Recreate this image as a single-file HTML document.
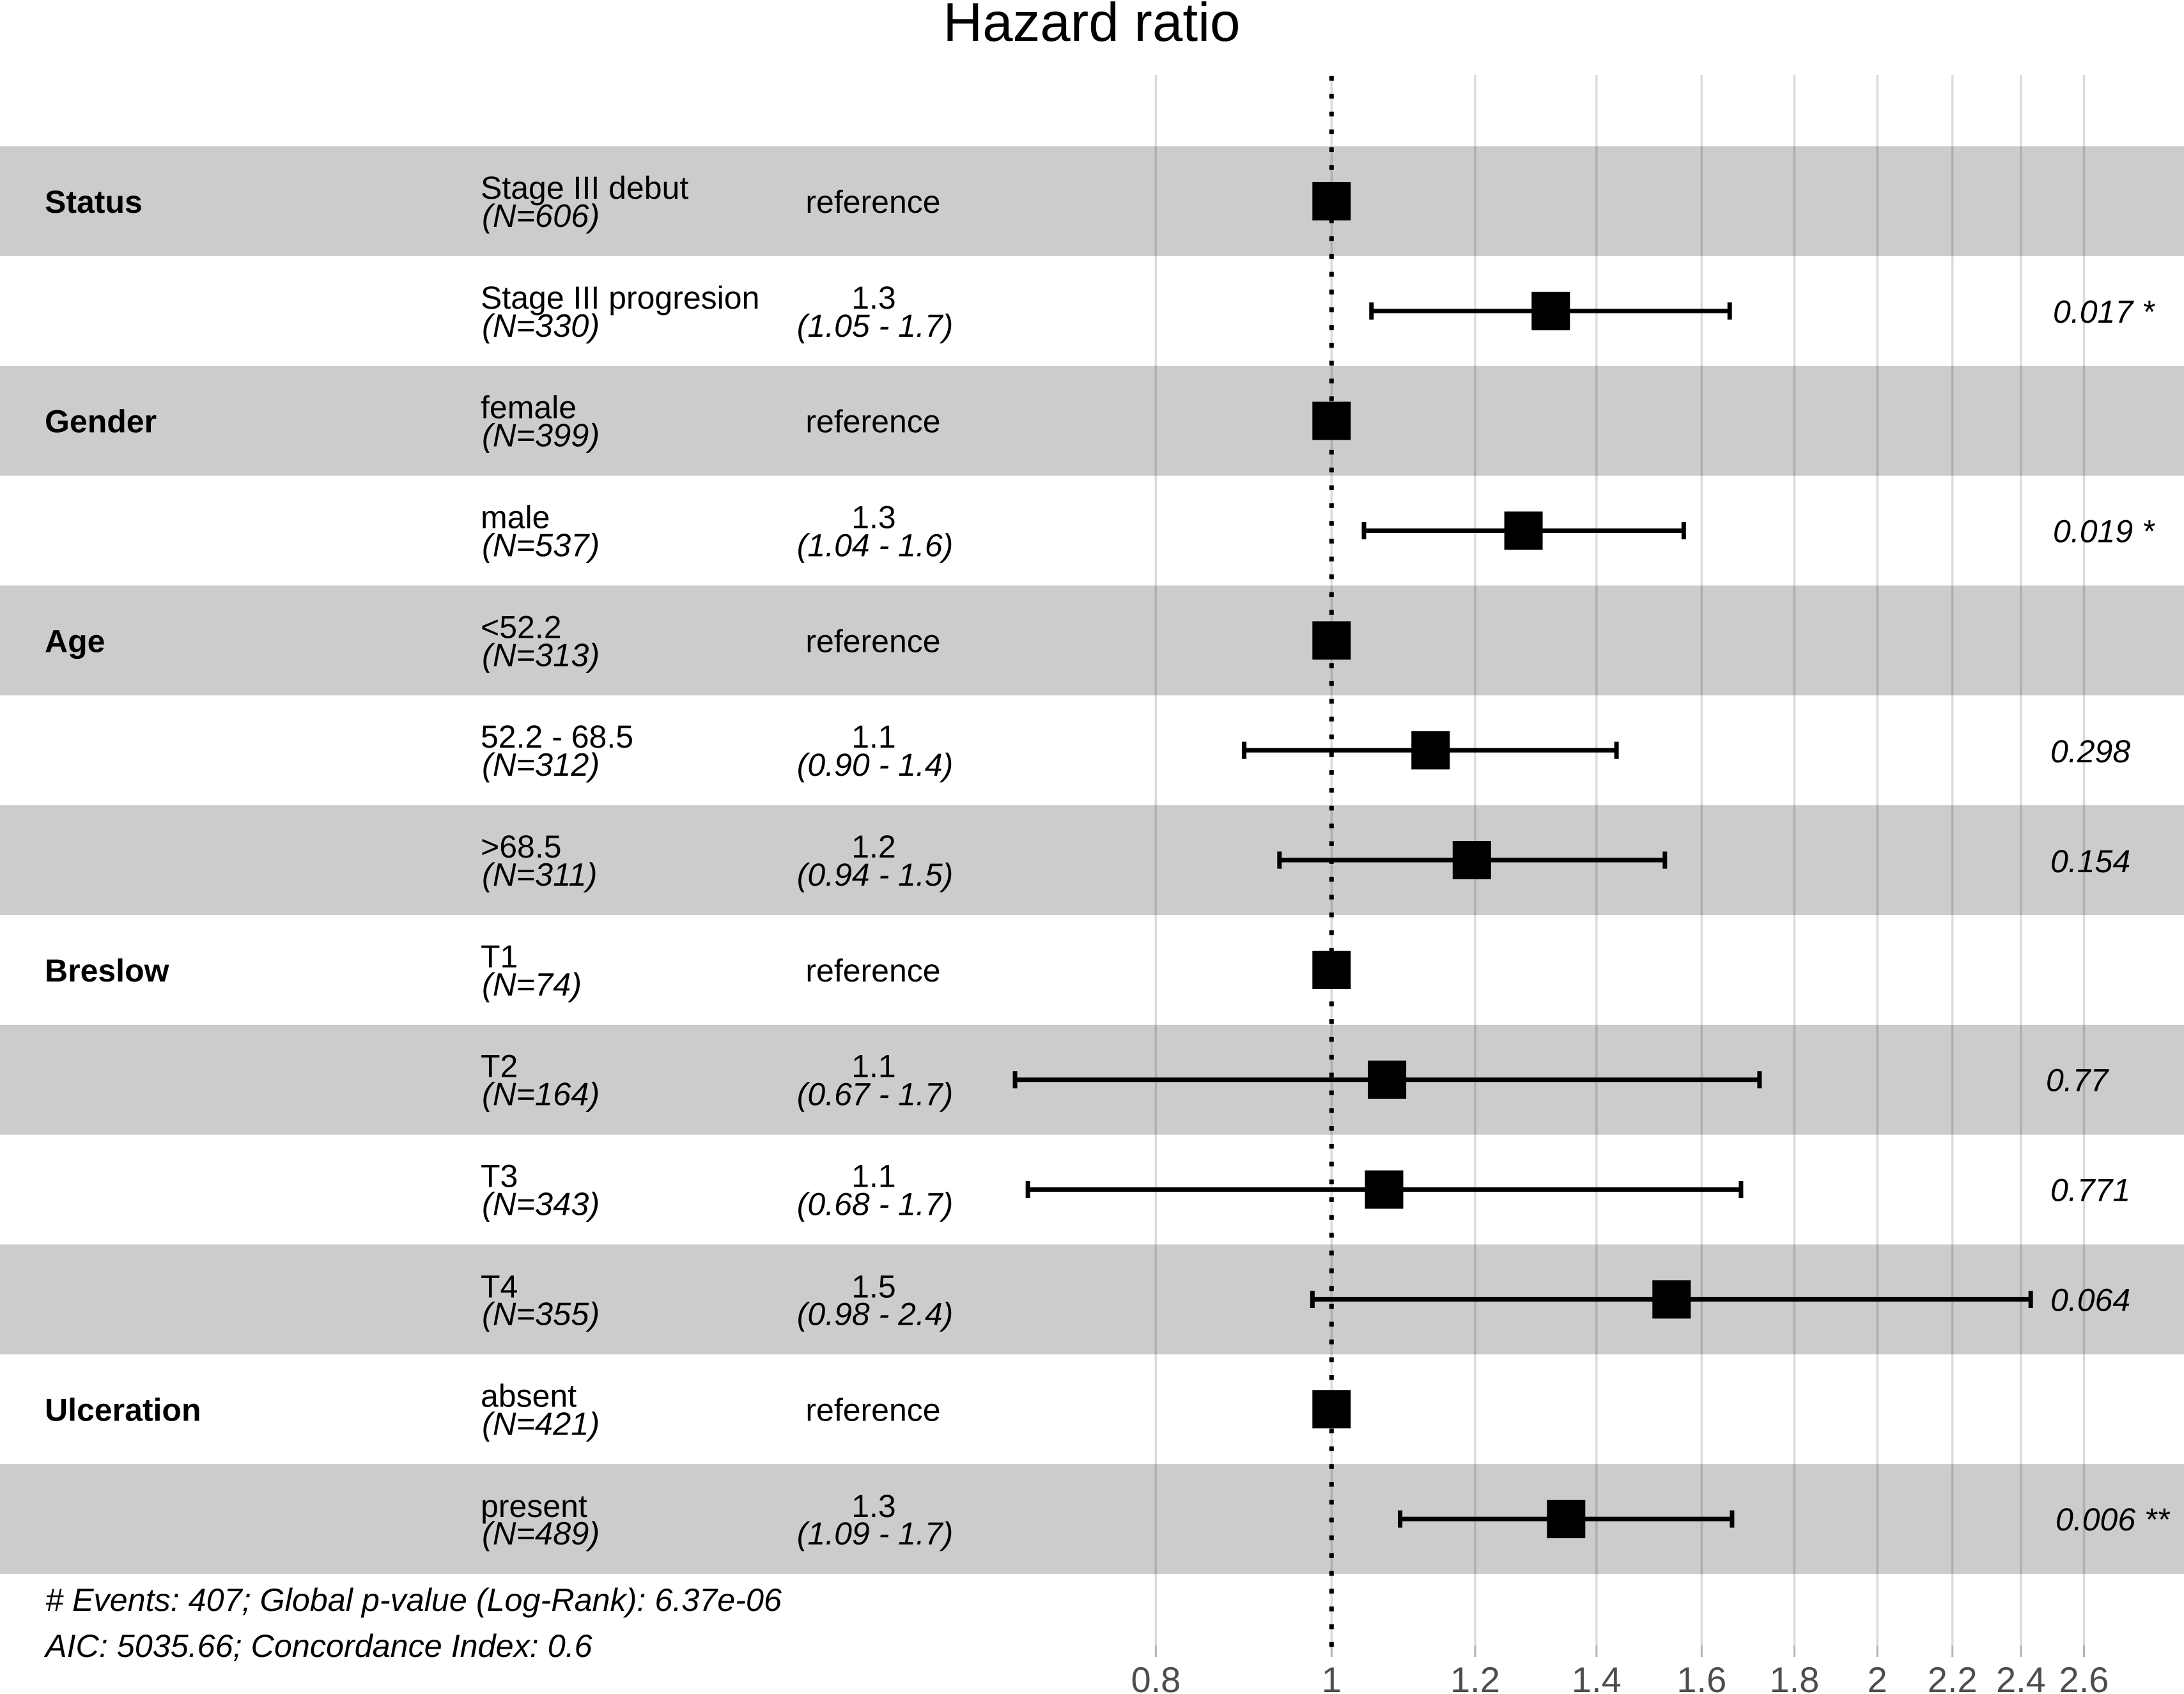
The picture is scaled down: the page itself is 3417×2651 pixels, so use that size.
<!DOCTYPE html>
<html lang="en">
<head>
<meta charset="utf-8">
<title>Hazard ratio forest plot</title>
<style>
html,body{margin:0;padding:0;background:#fff;}
body{width:3417px;height:2651px;overflow:hidden;}
svg{display:block;}
text{font-family:"Liberation Sans",Arial,sans-serif;font-size:50px;fill:#000;text-rendering:geometricPrecision;}
.it{font-style:italic;}
.b{font-weight:bold;}
.m{text-anchor:middle;}
.band{fill:#cccccc;}
.n{font-style:italic;font-size:50.6px;}
.foot{font-style:italic;font-size:50.3px;}
</style>
</head>
<body>
<svg id="plot" xmlns="http://www.w3.org/2000/svg" width="3417" height="2651" viewBox="0 0 3417 2651">
  <rect x="0" y="0" width="3417" height="2651" fill="#ffffff"/>
  <g>
    <rect class="band" x="0" y="229" width="3417" height="171.85"/>
    <rect class="band" x="0" y="572.7" width="3417" height="171.85"/>
    <rect class="band" x="0" y="916.4" width="3417" height="171.85"/>
    <rect class="band" x="0" y="1260.1" width="3417" height="171.85"/>
    <rect class="band" x="0" y="1603.8" width="3417" height="171.85"/>
    <rect class="band" x="0" y="1947.5" width="3417" height="171.85"/>
    <rect class="band" x="0" y="2291.2" width="3417" height="171.85"/>
  </g>
  <g id="grid"></g>
  <line x1="2083.3" x2="2083.3" y1="119" y2="2593" stroke="#000" stroke-width="7" stroke-dasharray="7.5 20.35"/>
  <g id="marks"></g>
  <g id="ticks"></g>

  <text class="m" x="1708" y="64" style="font-size:85.4px">Hazard ratio</text>

  <g transform="translate(0,314.9)">
    <text class="b" x="70" y="18">Status</text>
    <text x="752" y="-4">Stage III debut</text>
    <text class="n" x="754" y="40">(N=606)</text>
    <text class="m" x="1366" y="18">reference</text>
  </g>
  <g transform="translate(0,486.8)">
    <text x="752" y="-4">Stage III progresion</text>
    <text class="n" x="754" y="40">(N=330)</text>
    <text class="m" x="1367" y="-4">1.3</text>
    <text class="m it" x="1369" y="40">(1.05 - 1.7)</text>
    <text class="it" x="3212" y="18">0.017 *</text>
  </g>
  <g transform="translate(0,658.6)">
    <text class="b" x="70" y="18">Gender</text>
    <text x="752" y="-4">female</text>
    <text class="n" x="754" y="40">(N=399)</text>
    <text class="m" x="1366" y="18">reference</text>
  </g>
  <g transform="translate(0,830.5)">
    <text x="752" y="-4">male</text>
    <text class="n" x="754" y="40">(N=537)</text>
    <text class="m" x="1367" y="-4">1.3</text>
    <text class="m it" x="1369" y="40">(1.04 - 1.6)</text>
    <text class="it" x="3212" y="18">0.019 *</text>
  </g>
  <g transform="translate(0,1002.3)">
    <text class="b" x="70" y="18">Age</text>
    <text x="752" y="-4">&lt;52.2</text>
    <text class="n" x="754" y="40">(N=313)</text>
    <text class="m" x="1366" y="18">reference</text>
  </g>
  <g transform="translate(0,1174.2)">
    <text x="752" y="-4">52.2 - 68.5</text>
    <text class="n" x="754" y="40">(N=312)</text>
    <text class="m" x="1367" y="-4">1.1</text>
    <text class="m it" x="1369" y="40">(0.90 - 1.4)</text>
    <text class="it" x="3208" y="19">0.298</text>
  </g>
  <g transform="translate(0,1346)">
    <text x="752" y="-4">&gt;68.5</text>
    <text class="n" x="754" y="40">(N=311)</text>
    <text class="m" x="1367" y="-4">1.2</text>
    <text class="m it" x="1369" y="40">(0.94 - 1.5)</text>
    <text class="it" x="3208" y="19">0.154</text>
  </g>
  <g transform="translate(0,1517.9)">
    <text class="b" x="70" y="18">Breslow</text>
    <text x="752" y="-4">T1</text>
    <text class="n" x="754" y="40">(N=74)</text>
    <text class="m" x="1366" y="18">reference</text>
  </g>
  <g transform="translate(0,1689.7)">
    <text x="752" y="-4">T2</text>
    <text class="n" x="754" y="40">(N=164)</text>
    <text class="m" x="1367" y="-4">1.1</text>
    <text class="m it" x="1369" y="40">(0.67 - 1.7)</text>
    <text class="it" x="3201" y="18">0.77</text>
  </g>
  <g transform="translate(0,1861.6)">
    <text x="752" y="-4">T3</text>
    <text class="n" x="754" y="40">(N=343)</text>
    <text class="m" x="1367" y="-4">1.1</text>
    <text class="m it" x="1369" y="40">(0.68 - 1.7)</text>
    <text class="it" x="3208" y="18">0.771</text>
  </g>
  <g transform="translate(0,2033.4)">
    <text x="752" y="-3">T4</text>
    <text class="n" x="754" y="40">(N=355)</text>
    <text class="m" x="1367" y="-3">1.5</text>
    <text class="m it" x="1369" y="40">(0.98 - 2.4)</text>
    <text class="it" x="3208" y="18">0.064</text>
  </g>
  <g transform="translate(0,2205.3)">
    <text class="b" x="70" y="18">Ulceration</text>
    <text x="752" y="-4">absent</text>
    <text class="n" x="754" y="40">(N=421)</text>
    <text class="m" x="1366" y="18">reference</text>
  </g>
  <g transform="translate(0,2377.1)">
    <text x="752" y="-3">present</text>
    <text class="n" x="754" y="40">(N=489)</text>
    <text class="m" x="1367" y="-3">1.3</text>
    <text class="m it" x="1369" y="40">(1.09 - 1.7)</text>
    <text class="it" x="3216" y="18">0.006 **</text>
  </g>

  <text class="foot" x="71" y="2521">&#35; Events: 407; Global p-value (Log-Rank): 6.37e-06</text>
  <text class="foot" x="71" y="2593">AIC: 5035.66; Concordance Index: 0.6</text>
</svg>
<script>
const rowNames = ['stage-iii-debut','stage-iii-progression','female','male','age-under-52','age-52-68','age-over-68','t1','t2','t3','t4','absent','present'];
const hazardRatios = [1, 1.321, 1, 1.276, 1, 1.134, 1.195, 1, 1.073, 1.069, 1.54, 1, 1.347];
const ciLower = [null, 1.052, null, 1.042, null, 0.895, 0.936, null, 0.669, 0.68, 0.976, null, 1.091];
const ciUpper = [null, 1.658, null, 1.564, null, 1.436, 1.527, null, 1.722, 1.682, 2.43, null, 1.663];
const tickValues = [0.8, 1, 1.2, 1.4, 1.6, 1.8, 2, 2.2, 2.4, 2.6];
const tickLabels = ['0.8', '1', '1.2', '1.4', '1.6', '1.8', '2', '2.2', '2.4', '2.6'];

const NS = 'http://www.w3.org/2000/svg';
function xScale(v) { return 2083.3 + 1232 * Math.log(v); }
function yScale(i) { return 229 + 171.85 * (i + 0.5); }
function make(tag, parent, attrs) {
  const el = document.createElementNS(NS, tag);
  for (const k in attrs) el.setAttribute(k, attrs[k]);
  parent.appendChild(el);
  return el;
}
const grid = document.getElementById('grid');
const ticks = document.getElementById('ticks');
const marks = document.getElementById('marks');

tickValues.forEach(function (v, i) {
  const x = xScale(v);
  const g = make('line', grid, {x1: x, x2: x, y1: 117, y2: 2575, stroke: 'rgba(0,0,0,0.14)', 'stroke-width': 3.5});
  
  
  const t = make('line', grid, {x1: x, x2: x, y1: 2575, y2: 2593, stroke: '#b3b3b3', 'stroke-width': 3});
  
  
  const label = make('text', ticks, {x: x, y: 2648, 'text-anchor': 'middle', style: 'font-size:56px;fill:#4d4d4d'});
  label.textContent = tickLabels[i];
  
  
});

hazardRatios.forEach(function (hr, i) {
  const y = yScale(i);
  if (ciLower[i] !== null && ciUpper[i] !== null) {
    const lo = xScale(ciLower[i]);
    const hi = xScale(ciUpper[i]);
    const w = make('line', marks, {x1: lo, x2: hi, y1: y, y2: y, stroke: '#000', 'stroke-width': 7});
    
    
    const c1 = make('line', marks, {x1: lo, x2: lo, y1: y - 13.5, y2: y + 13.5, stroke: '#000', 'stroke-width': 7});
    
    
    const c2 = make('line', marks, {x1: hi, x2: hi, y1: y - 13.5, y2: y + 13.5, stroke: '#000', 'stroke-width': 7});
    
    
  }
  const box = make('rect', marks, {x: xScale(hr) - 30, y: y - 30, width: 60, height: 60, fill: '#000'});
  
  
});
</script>
</body>
</html>
